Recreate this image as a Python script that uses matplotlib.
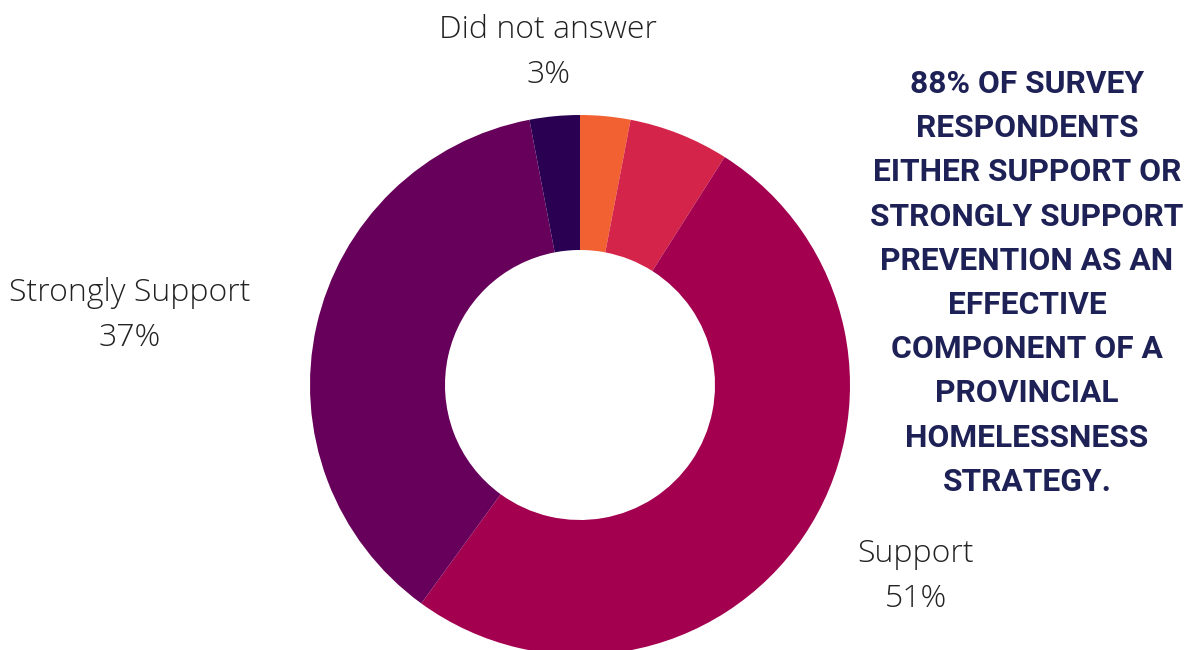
import matplotlib.pyplot as plt
from matplotlib import font_manager
from matplotlib.font_manager import FontProperties

# survey responses, clockwise from 12 o'clock
labels = ["Oppose", "Neutral", "Support", "Strongly Support", "Did not answer"]
values = [3, 6, 51, 37, 3]
colors = ["#F26131", "#D52449", "#A3004F", "#67005A", "#2A0052"]
shown = {"Support", "Strongly Support", "Did not answer"}

headline = ["88% OF SURVEY", "RESPONDENTS", "EITHER SUPPORT OR",
            "STRONGLY SUPPORT", "PREVENTION AS AN", "EFFECTIVE",
            "COMPONENT OF A", "PROVINCIAL", "HOMELESSNESS", "STRATEGY."]

W, H = 1189, 650
fig = plt.figure(figsize=(W / 100, H / 100), dpi=100)
ax = fig.add_axes([0, 0, 1, 1])

ax.pie(values, colors=colors, startangle=90, counterclock=False,
       center=(580, H - 385), radius=270,
       wedgeprops=dict(width=135, linewidth=0))
ax.set_xlim(0, W)
ax.set_ylim(0, H)
ax.set_aspect("equal")
ax.axis("off")

label_pos = {
    "Did not answer": (548, 30),
    "Strongly Support": (130, 293),
    "Support": (916, 554),
}
for name, v in zip(labels, values):
    if name not in shown:
        continue
    x, y = label_pos[name]
    ax.text(x, H - y, name, ha="center", va="center", fontsize=23,
            family="Open Sans", weight="light", color="#222222")
    ax.text(x, H - y - 45, f"{v}%", ha="center", va="center", fontsize=23,
            family="Open Sans", weight="light", color="#222222")

# headline font: Roboto bold, sized so the longest line spans ~309 px
renderer = fig.canvas.get_renderer()
installed = {f.name for f in font_manager.fontManager.ttflist}
head_font = "Roboto" if "Roboto" in installed else "DejaVu Sans"
widest = max(headline, key=len)
fp = FontProperties(family=head_font, weight="bold", size=24)
w, _, _ = renderer.get_text_width_height_descent(widest, fp, ismath=False)
size = 24 * 309 / w

# one line at a time so the spacing stays fixed
for i, line in enumerate(headline):
    ax.text(1027, H - 84 - i * 44.2, line, ha="center", va="center",
            fontsize=size, family=head_font, weight="bold", color="#1E2156")

fig.savefig("out.png", dpi=100)
